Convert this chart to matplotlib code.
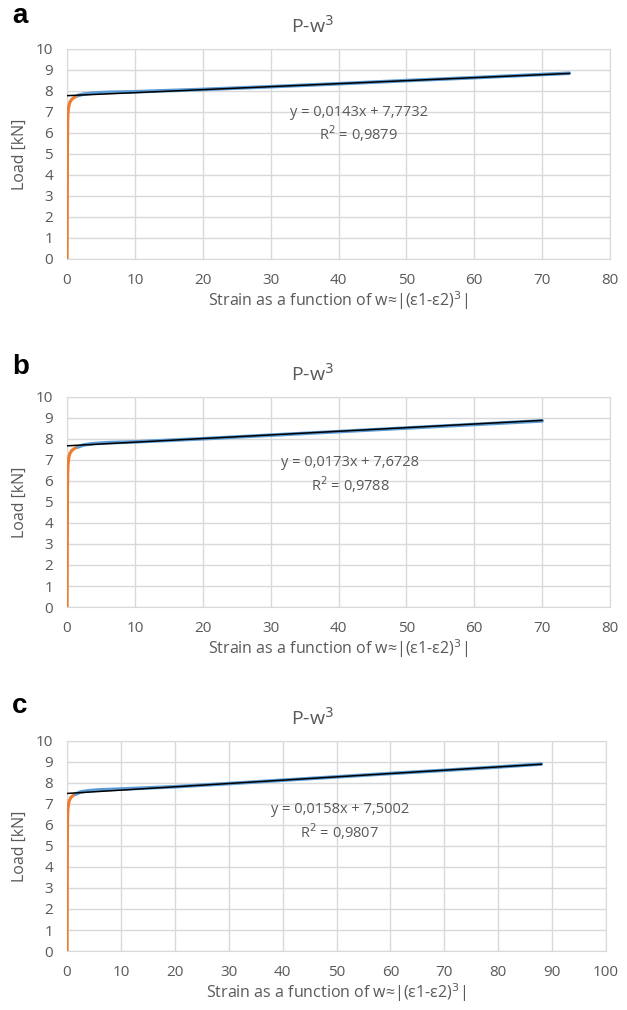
import matplotlib
matplotlib.use("Agg")
import matplotlib.pyplot as plt

# panel letters / regression text
panel_labels = ["a", "b", "c"]
slopes = [0.0143, 0.0173, 0.0158]
intercepts = [7.7732, 7.6728, 7.5002]
r2_values = ["0,9879", "0,9788", "0,9807"]
x_max = [80, 80, 100]
trend_end = [74, 70, 88]

# early (orange) part of each curve
orange_x = [
    [0, 0.03, 0.06, 0.1, 0.15, 0.25, 0.4, 0.7, 1.1, 1.6],
    [0, 0.03, 0.06, 0.1, 0.15, 0.25, 0.4, 0.7, 1.1, 1.6],
    [0, 0.03, 0.06, 0.1, 0.15, 0.25, 0.4, 0.7, 1.1, 1.6],
]
orange_y = [
    [0, 2.5, 5.5, 6.6, 7.0, 7.25, 7.45, 7.6, 7.7, 7.78],
    [0, 2.5, 5.5, 6.4, 6.8, 7.1, 7.3, 7.45, 7.55, 7.62],
    [0, 2.5, 5.5, 6.3, 6.7, 6.95, 7.15, 7.3, 7.4, 7.47],
]

# later (blue) part of each curve
blue_x = [
    [1.6, 2.5, 4, 6, 10, 20, 30, 40, 50, 60, 74],
    [1.6, 2.5, 4, 6, 10, 20, 30, 40, 50, 60, 70],
    [1.6, 2.5, 4, 6, 10, 20, 30, 40, 50, 60, 70, 80, 88],
]
blue_y = [
    [7.78, 7.85, 7.9, 7.93, 7.96, 8.07, 8.2, 8.34, 8.49, 8.63, 8.84],
    [7.62, 7.72, 7.78, 7.82, 7.86, 8.01, 8.18, 8.35, 8.52, 8.69, 8.86],
    [7.47, 7.57, 7.63, 7.67, 7.71, 7.82, 7.97, 8.13, 8.29, 8.45, 8.6, 8.76, 8.9],
]

text_color = "#595959"
grid_color = "#d9d9d9"

fig = plt.figure(figsize=(6.27, 10.10), dpi=100)

# [left, bottom, width, height] in figure fraction
boxes = [
    [0.1069, 0.7436, 0.866, 0.208],
    [0.1069, 0.399, 0.866, 0.208],
    [0.1069, 0.0584, 0.8596, 0.208],
]
label_y = [0.977, 0.6297, 0.294]
eq_pos = [(43, 6.4), (41.7, 6.3), (50.6, 6.15)]

for i in range(3):
    ax = fig.add_axes(boxes[i])
    ax.plot(orange_x[i], orange_y[i], color="#ED7D31", lw=2.3, zorder=3)
    ax.plot(blue_x[i], blue_y[i], color="#5B9BD5", lw=2.6, zorder=3,
            solid_capstyle="round")
    tx = [0, trend_end[i]]
    ty = [intercepts[i] + slopes[i] * v for v in tx]
    ax.plot(tx, ty, color="black", lw=1.1, zorder=4)

    ax.set_xlim(0, x_max[i])
    ax.set_ylim(0, 10)
    ax.set_xticks(range(0, x_max[i] + 1, 10))
    ax.set_yticks(range(0, 11))
    ax.grid(True, color=grid_color, lw=1)
    ax.set_axisbelow(True)
    for sp in ax.spines.values():
        sp.set_color(grid_color)
    ax.tick_params(length=0, labelsize=11, colors=text_color)
    ax.tick_params(axis="y", pad=10)
    ax.tick_params(axis="x", pad=10)
    for lab in ax.get_xticklabels() + ax.get_yticklabels():
        lab.set_fontfamily("Open Sans")

    ax.set_ylabel("Load [kN]", fontsize=11.5, color=text_color,
                  fontfamily="Open Sans", labelpad=6)
    ax.set_xlabel("Strain as a function of w\u2248|(\u03b51-\u03b52)$^3$|",
                  fontsize=11.5, color=text_color, fontfamily="Open Sans",
                  labelpad=1)
    # title is centred on the whole chart area, not the plot area
    ax.text((312 / 627 - boxes[i][0]) / boxes[i][2], 1.11, "P-w$^3$",
            transform=ax.transAxes, ha="center", va="center",
            fontsize=14, color=text_color, fontfamily="Open Sans")

    eq = "y = {}x + {}".format(str(slopes[i]).replace(".", ","),
                               str(intercepts[i]).replace(".", ","))
    ax.text(eq_pos[i][0], eq_pos[i][1],
            eq + "\nR$^2$ = " + r2_values[i],
            ha="center", va="center", fontsize=10.5, color=text_color,
            fontfamily="Open Sans", linespacing=1.25)

    fig.text(0.019, label_y[i], panel_labels[i], fontsize=20,
             fontweight="bold", fontfamily="Liberation Sans",
             ha="left", va="baseline")

fig.savefig("out.png", dpi=100)
